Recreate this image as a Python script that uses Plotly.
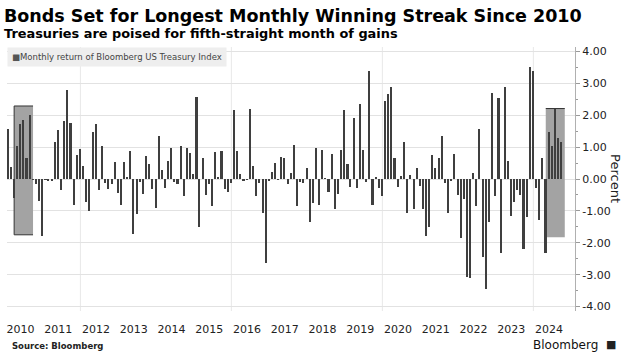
import pandas as pd
import plotly.graph_objects as go

# Monthly return of Bloomberg US Treasury Index (%), month-end, Jan 2010 - Sep 2024
ret_2010 = [1.56, 0.39, -0.60, 1.04, 1.72, 1.85, 0.67, 2.01, -0.03, -0.16, -0.70, -1.79]
ret_2011 = [-0.02, -0.05, -0.04, 1.15, 1.54, -0.34, 1.82, 2.78, 1.75, -0.81, 0.74, 0.94]
ret_2012 = [0.41, -0.71, -1.01, 1.46, 1.71, -0.34, 1.02, -0.12, -0.30, -0.16, 0.52, -0.43]
ret_2013 = [-0.81, 0.52, 0.07, 0.89, -1.72, -1.11, -0.10, -0.47, 0.71, 0.48, -0.32, -0.91]
ret_2014 = [1.35, 0.27, -0.27, 0.56, 0.96, -0.10, -0.15, 1.05, -0.53, 0.98, 0.80, 0.15]
ret_2015 = [2.58, -1.52, 0.66, -0.50, -0.17, -0.86, 0.84, 0.05, 0.89, -0.32, -0.40, -0.12]
ret_2016 = [2.15, 0.89, 0.16, -0.07, -0.03, 2.20, 0.42, -0.52, -0.12, -1.08, -2.65, -0.07]
ret_2017 = [0.22, 0.49, -0.03, 0.70, 0.65, -0.15, 0.19, 1.08, -0.84, -0.09, -0.11, 0.33]
ret_2018 = [-1.34, -0.74, 0.96, -0.80, 0.90, 0.02, -0.41, 0.77, -0.93, -0.47, 0.90, 2.15]
ret_2019 = [0.48, -0.25, 1.92, -0.27, 2.35, 0.92, -0.09, 3.40, -0.82, 0.06, -0.27, -0.53]
ret_2020 = [2.46, 2.66, 2.90, 0.66, -0.24, 0.09, 1.16, -1.08, 0.14, -0.93, 0.35, -0.21]
ret_2021 = [-0.93, -1.80, -1.52, 0.74, 0.35, 0.66, 1.36, -0.12, -1.06, -0.05, 0.77, -0.51]
ret_2022 = [-1.86, -0.64, -3.08, -3.10, 0.20, -0.86, 1.58, -2.45, -3.45, -1.36, 2.70, -0.52]
ret_2023 = [2.54, -2.33, 2.90, 0.56, -1.15, -0.71, -0.34, -0.50, -2.20, -1.20, 3.50, 3.38]
ret_2024 = [-0.27, -1.29, 0.67, -2.31, 1.47, 1.03, 2.18, 1.30, 1.17]

year_labels = [str(y) for y in range(2010, 2025)]
y_ticks = [-4, -3, -2, -1, 0, 1, 2, 3, 4]

# streak periods highlighted (month-end before start, month-end after finish)
streak_2010 = ("2010-03-31", "2010-09-30")
streak_2024 = ("2024-04-30", "2024-10-31")

returns = (ret_2010 + ret_2011 + ret_2012 + ret_2013 + ret_2014 + ret_2015 + ret_2016
           + ret_2017 + ret_2018 + ret_2019 + ret_2020 + ret_2021 + ret_2022 + ret_2023 + ret_2024)
dates = pd.date_range("2010-01-31", periods=len(returns), freq="ME")

FONT = "DejaVu Sans"
DAY = 86400000

fig = go.Figure()
fig.add_trace(go.Bar(
    x=dates, y=returns, marker_color="#3f3f3f", marker_line_width=0,
    width=15 * DAY, showlegend=False,
))

shapes = []
# vertical gridlines every four years
for yr in ["2012", "2016", "2020", "2024"]:
    shapes.append(dict(type="line", xref="x", yref="paper", x0=f"{yr}-01-01", x1=f"{yr}-01-01",
                       y0=0, y1=1, line=dict(color="#e8e8e8", width=1), layer="below"))

def streak_box(period, top, bottom, sides):
    out = [dict(type="rect", xref="x", yref="y", x0=period[0], x1=period[1], y0=bottom, y1=top,
                fillcolor="#a3a3a3", line=dict(width=0), layer="between")]
    edges = {
        "top": (period[0], period[1], top, top),
        "bottom": (period[0], period[1], bottom, bottom),
        "left": (period[0], period[0], bottom, top),
    }
    for s in sides:
        x0, x1, y0, y1 = edges[s]
        out.append(dict(type="line", xref="x", yref="y", x0=x0, x1=x1, y0=y0, y1=y1,
                        line=dict(color="#333333", width=1), layer="between"))
    return out

shapes += streak_box(streak_2010, 2.29, -1.75, ["top", "bottom", "left"])
shapes += streak_box(streak_2024, 2.21, -1.83, ["top"])

tick_dates = [f"{y}-06-01" for y in year_labels]

fig.update_layout(
    width=638, height=357,
    margin=dict(l=7, r=63, t=47, b=46),
    plot_bgcolor="white", paper_bgcolor="white",
    font=dict(family=FONT, color="#333333"),
    bargap=0,
    shapes=shapes,
    xaxis=dict(
        type="date", range=["2010-01-21", "2025-02-07"],
        tickmode="array", tickvals=tick_dates, ticktext=year_labels,
        showgrid=False, zeroline=False, showline=False, ticks="",
        tickfont=dict(size=11, color="#222222"), ticklabelstandoff=10,
        fixedrange=True,
    ),
    yaxis=dict(
        side="right", range=[-4.14, 4.14],
        tickmode="array", tickvals=y_ticks, ticktext=[f"{v:.2f}" for v in y_ticks],
        showgrid=True, gridcolor="#e2e2e2", gridwidth=1, zeroline=False,
        showline=True, linecolor="#b0b0b0", linewidth=1,
        ticks="outside", ticklen=4, tickcolor="#9a9a9a",
        minor=dict(tickvals=[v + 0.5 for v in y_ticks[:-1]], ticks="outside", ticklen=2,
                   tickcolor="#9a9a9a", showgrid=False),
        tickfont=dict(size=11, color="#222222"),
    ),
    annotations=[
        dict(xref="paper", yref="paper", x=-0.0088, y=1.163, xanchor="left", yanchor="top",
             text="<b>Bonds Set for Longest Monthly Winning Streak Since 2010</b>", showarrow=False,
             font=dict(family=FONT, size=17.5, color="#000000")),
        dict(xref="paper", yref="paper", x=-0.0088, y=1.088, xanchor="left", yanchor="top",
             text="<b>Treasuries are poised for fifth-straight month of gains</b>", showarrow=False,
             font=dict(family=FONT, size=12.9, color="#000000")),
        dict(xref="paper", yref="paper", x=0.0, y=1.0, xanchor="left", yanchor="top",
             text="<span style='color:#555555'>■</span>Monthly return of Bloomberg US Treasury Index",
             showarrow=False, bgcolor="#eeeeee", borderpad=4,
             font=dict(family=FONT, size=8.5, color="#444444")),
        dict(xref="paper", yref="paper", x=1.072, y=0.5, xanchor="center", yanchor="middle",
             text="Percent", textangle=90, showarrow=False,
             font=dict(family=FONT, size=13, color="#222222")),
        dict(xref="paper", yref="paper", x=0.005, y=-0.133, xanchor="left", yanchor="middle",
             text="<b>Source: Bloomberg</b>", showarrow=False,
             font=dict(family=FONT, size=8.5, color="#222222")),
        dict(xref="paper", yref="paper", x=1.044, y=-0.128, xanchor="right", yanchor="middle",
             text="Bloomberg", showarrow=False,
             font=dict(family=FONT, size=12, color="#111111")),
        dict(xref="paper", yref="paper", x=1.051, y=-0.128, xanchor="left", yanchor="middle",
             text="<b>■</b>", showarrow=False,
             font=dict(family=FONT, size=11, color="#222222")),
    ],
)

fig.write_html("out.html", config={"displayModeBar": False},
               post_script="document.body.style.margin='0';")
